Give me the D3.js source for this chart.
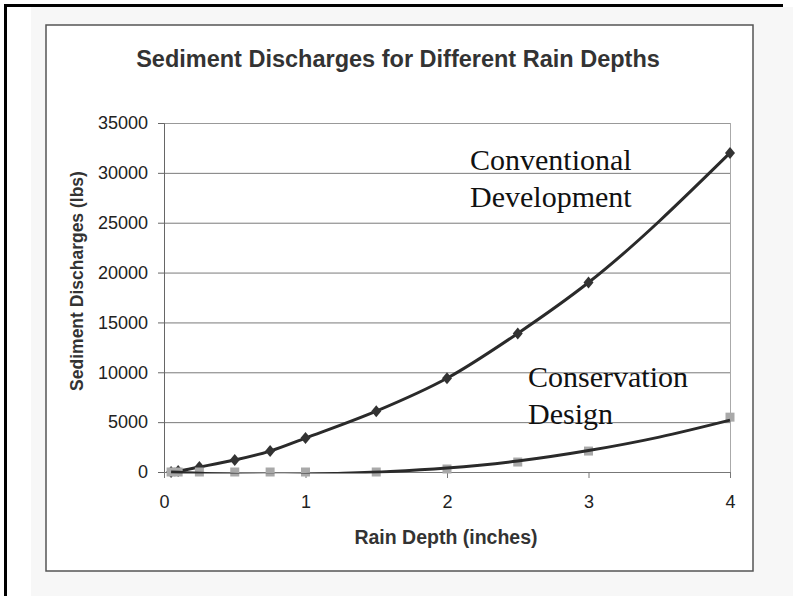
<!DOCTYPE html>
<html>
<head>
<meta charset="utf-8">
<script src="https://cdn.jsdelivr.net/npm/d3@7"></script>
<style>
  body { margin: 0; background: #fff; }
  svg { display: block; }
</style>
</head>
<body>
<svg id="chart" width="793" height="596"></svg>
<script>
// values
const rainDepth = [0.05, 0.1, 0.25, 0.5, 0.75, 1, 1.5, 2, 2.5, 3, 4];
const conventional = [0, 100, 500, 1200, 2100, 3400, 6100, 9400, 13900, 19000, 32000];
const conservation = [0, 0, 0, 0, 0, 0, 0, 300, 1000, 2100, 5500];
// the conservation curve is a fitted trend line, it dips under the axis before 1.5"
const conservationTrendX = [0.05, 0.4, 0.8, 1.2, 1.6, 2, 2.5, 3, 3.5, 4];
const conservationTrendY = [0, -200, -300, -150, 50, 400, 1100, 2150, 3500, 5200];
const yTicks = [0, 5000, 10000, 15000, 20000, 25000, 30000, 35000];
const xTicks = [0, 1, 2, 3, 4];

const svg = d3.select('#chart');
const sans = "'Liberation Sans', Arial, sans-serif";
const serif = "'Liberation Serif', 'Times New Roman', serif";

// page: scanned sheet with black frame on top/left
svg.append('rect').attr('x', 31).attr('y', 7).attr('width', 762).attr('height', 589).attr('fill', '#f7f7f7');
svg.append('line').attr('x1', 5).attr('y1', 5.5).attr('x2', 783).attr('y2', 5.5).attr('stroke', '#000').attr('stroke-width', 3);
svg.append('line').attr('x1', 5.5).attr('y1', 4).attr('x2', 5.5).attr('y2', 596).attr('stroke', '#000').attr('stroke-width', 3);

// chart frame
svg.append('rect').attr('x', 46).attr('y', 25).attr('width', 707).attr('height', 546)
  .attr('fill', '#fff').attr('stroke', '#555').attr('stroke-width', 1.5);

const plot = { left: 164, right: 730, top: 123, bottom: 472 };
const x = d3.scaleLinear().domain([0, 4]).range([plot.left, plot.right]);
const y = d3.scaleLinear().domain([0, 35000]).range([plot.bottom, plot.top]);

// title
svg.append('text').attr('x', 398).attr('y', 67).attr('text-anchor', 'middle')
  .attr('font-family', sans).attr('font-weight', 'bold').attr('font-size', 23.5).attr('fill', '#333')
  .text('Sediment Discharges for Different Rain Depths');

// gridlines
svg.append('g').selectAll('line').data(yTicks.filter(d => d > 0)).enter().append('line')
  .attr('x1', plot.left).attr('x2', plot.right)
  .attr('y1', d => y(d) + 0.5).attr('y2', d => y(d) + 0.5)
  .attr('stroke', d => d === 35000 ? '#999' : '#7a7a7a').attr('stroke-width', 1);
// right plot border
svg.append('line').attr('x1', plot.right + 0.5).attr('x2', plot.right + 0.5)
  .attr('y1', plot.top).attr('y2', plot.bottom).attr('stroke', '#aaa').attr('stroke-width', 1);

// y axis
const yAxis = svg.append('g').attr('transform', `translate(${plot.left},0)`)
  .call(d3.axisLeft(y).tickValues(yTicks).tickSize(6).tickPadding(10).tickFormat(d3.format('d')));
yAxis.select('.domain').attr('stroke', '#666');
yAxis.selectAll('.tick line').attr('stroke', '#666');
yAxis.selectAll('.tick text').attr('font-family', sans).attr('font-size', 18).attr('fill', '#222');

// x axis
const xAxis = svg.append('g').attr('transform', `translate(0,${plot.bottom})`)
  .call(d3.axisBottom(x).tickValues(xTicks).tickSize(6).tickPadding(17).tickFormat(d3.format('d')));
xAxis.select('.domain').attr('stroke', '#777');
xAxis.selectAll('.tick line').attr('stroke', '#777');
xAxis.selectAll('.tick text').attr('font-family', sans).attr('font-size', 18).attr('fill', '#222');

// axis titles
svg.append('text').attr('transform', 'translate(83,281) rotate(-90)').attr('text-anchor', 'middle')
  .attr('font-family', sans).attr('font-weight', 'bold').attr('font-size', 17.5).attr('fill', '#333')
  .text('Sediment Discharges (lbs)');
svg.append('text').attr('x', 446).attr('y', 544).attr('text-anchor', 'middle')
  .attr('font-family', sans).attr('font-weight', 'bold').attr('font-size', 19.5).attr('fill', '#333')
  .text('Rain Depth (inches)');

// clip for the trend line
svg.append('clipPath').attr('id', 'plot-clip').append('rect')
  .attr('x', plot.left).attr('y', plot.top).attr('width', plot.right - plot.left + 2).attr('height', plot.bottom - plot.top + 1.5);

const line = d3.line().x(d => x(d[0])).y(d => y(d[1])).curve(d3.curveMonotoneX);
const convPts = rainDepth.map((d, i) => [d, conventional[i]]);
const consPts = rainDepth.map((d, i) => [d, conservation[i]]);
const trendPts = conservationTrendX.map((d, i) => [d, conservationTrendY[i]]);

svg.append('path').attr('d', line(convPts)).attr('fill', 'none')
  .attr('stroke', '#2a2a2a').attr('stroke-width', 3).attr('stroke-linejoin', 'round');

// markers
svg.append('g').selectAll('path').data(convPts).enter().append('path')
  .attr('d', d => { const cx = x(d[0]), cy = y(d[1]); return `M${cx},${cy - 6}L${cx + 5},${cy}L${cx},${cy + 6}L${cx - 5},${cy}Z`; })
  .attr('fill', '#333');
svg.append('g').selectAll('rect').data(consPts).enter().append('rect')
  .attr('x', d => x(d[0]) - 4.5).attr('y', d => y(d[1]) - 4.5).attr('width', 9).attr('height', 9)
  .attr('fill', '#a9a9a9');

svg.append('path').attr('d', line(trendPts)).attr('fill', 'none').attr('clip-path', 'url(#plot-clip)')
  .attr('stroke', '#2a2a2a').attr('stroke-width', 3).attr('stroke-linejoin', 'round');

// labels
const notes = [
  { text: 'Conventional', x: 470, y: 170 },
  { text: 'Development', x: 470, y: 207 },
  { text: 'Conservation', x: 528, y: 387 },
  { text: 'Design', x: 528, y: 424 }
];
svg.append('g').selectAll('text').data(notes).enter().append('text')
  .attr('x', d => d.x).attr('y', d => d.y)
  .attr('font-family', serif).attr('font-size', 30).attr('fill', '#111')
  .text(d => d.text);
</script>
</body>
</html>
